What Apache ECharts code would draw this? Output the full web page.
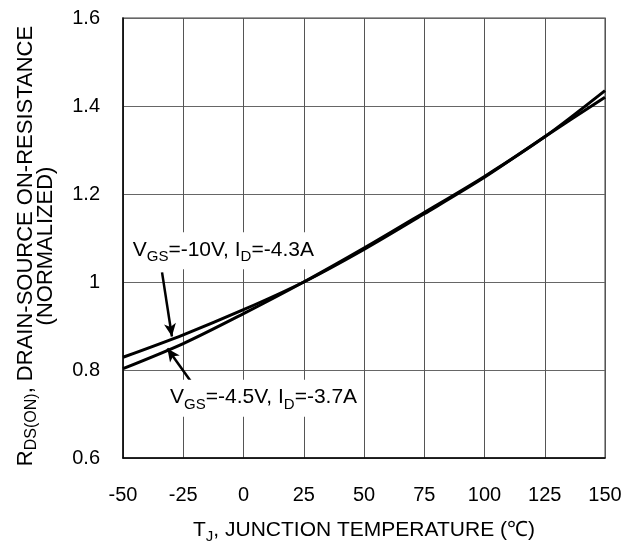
<!DOCTYPE html>
<html>
<head>
<meta charset="utf-8">
<script src="https://cdn.jsdelivr.net/npm/echarts@6/dist/echarts.min.js"></script>
<style>
  html, body { margin: 0; padding: 0; background: #fff; }
  #chart { width: 639px; height: 541px; }
</style>
</head>
<body>
<div id="chart"></div>
<script>
// junction temperature (°C) and normalized on-resistance
const temps = [-50, -25, 0, 25, 50, 75, 100, 125, 150];
const rds10V = [0.829, 0.880, 0.937, 1.0, 1.074, 1.155, 1.238, 1.330, 1.420];
const rds45V = [0.803, 0.860, 0.928, 1.0, 1.077, 1.158, 1.240, 1.330, 1.435];

// axis ranges
const xRange = [-50, 150];
const xStep = 25;
const yRange = [0.6, 1.6];
const yStep = 0.2;

// annotations, in data coordinates
const label10V = [-47.2, 1.071];
const label45V = [-31.7, 0.736];
const arrow10V = [[-33.8, 1.022], [-29.7, 0.876]];
const arrow45V = [[-20.1, 0.761], [-31.6, 0.849]];

const FONT = "'Liberation Sans', Arial, sans-serif";

function richSet(lh, size, subSize, shift) {
  return {
    n: { fontSize: size, fontFamily: FONT, color: '#000', fill: '#000', lineHeight: lh },
    s: { fontSize: subSize, fontFamily: FONT, color: '#000', fill: '#000', lineHeight: lh, padding: [shift * 2, 0, 0, 0] }
  };
}

const chart = echarts.init(document.getElementById('chart'));

const option = {
  animation: false,
  grid: {
    left: 123, right: 34, top: 18, bottom: 83,
    containLabel: false,
    outerBoundsMode: 'none',
    show: true, borderColor: '#808080', borderWidth: 1.5
  },
  xAxis: {
    type: 'value',
    min: xRange[0], max: xRange[1], interval: xStep,
    axisLine: { show: true, onZero: false, lineStyle: { color: '#000', width: 1.5 } },
    axisTick: { show: false },
    splitLine: { show: true, lineStyle: { color: '#555', width: 1 } },
    axisLabel: { fontSize: 20, fontFamily: FONT, color: '#000', margin: 27 },
    name: '{n|T}{s|J}{n|, JUNCTION TEMPERATURE (℃)}',
    nameLocation: 'middle',
    nameGap: 60,
    nameTextStyle: { rich: richSet(24, 21, 15, 7) }
  },
  yAxis: {
    type: 'value',
    min: yRange[0], max: yRange[1], interval: yStep,
    axisLine: { show: true, onZero: false, lineStyle: { color: '#000', width: 1.5 } },
    axisTick: { show: false },
    splitLine: { show: true, lineStyle: { color: '#666', width: 1 } },
    axisLabel: { fontSize: 20, fontFamily: FONT, color: '#000', margin: 23 }
  },
  series: [
    {
      name: 'VGS=-10V',
      type: 'line',
      data: temps.map((t, i) => [t, rds10V[i]]),
      smooth: 0.3,
      showSymbol: false,
      lineStyle: { color: '#000', width: 3 },
      silent: true,
      markLine: {
        silent: true,
        symbol: ['none', 'arrow'],
        symbolSize: [9, 13],
        label: { show: false },
        lineStyle: { color: '#000', width: 2.5, type: 'solid' },
        data: [
          [{ coord: arrow10V[0] }, { coord: arrow10V[1] }],
          [{ coord: arrow45V[0] }, { coord: arrow45V[1] }]
        ]
      }
    },
    {
      name: 'VGS=-4.5V',
      type: 'line',
      data: temps.map((t, i) => [t, rds45V[i]]),
      smooth: 0.3,
      showSymbol: false,
      lineStyle: { color: '#000', width: 3 },
      silent: true
    }
  ]
};

chart.setOption(option);

const p1 = chart.convertToPixel({ gridIndex: 0 }, label10V);
const p2 = chart.convertToPixel({ gridIndex: 0 }, label45V);

chart.setOption({
  graphic: [
    {
      type: 'text',
      x: 36, y: 246,
      rotation: Math.PI / 2,
      style: {
        text: '{n|R}{s|DS(ON)}{n|, DRAIN-SOURCE ON-RESISTANCE}\n{n|(NORMALIZED)}',
        rich: richSet(20, 22, 16, 6),
        align: 'center',
        verticalAlign: 'middle'
      }
    },
    {
      type: 'text',
      x: p1[0], y: p1[1],
      z: 10,
      style: {
        text: '{n|V}{s|GS}{n|=-10V, I}{s|D}{n|=-4.3A}',
        rich: richSet(24, 21, 15, 7),
        align: 'left',
        verticalAlign: 'middle',
        backgroundColor: '#fff',
        padding: [6, 3, 7, 3]
      }
    },
    {
      type: 'text',
      x: p2[0], y: p2[1],
      z: 10,
      style: {
        text: '{n|V}{s|GS}{n|=-4.5V, I}{s|D}{n|=-3.7A}',
        rich: richSet(24, 21, 15, 7),
        align: 'left',
        verticalAlign: 'middle',
        backgroundColor: '#fff',
        padding: [6, 3, 7, 3]
      }
    }
  ]
});
</script>
</body>
</html>
